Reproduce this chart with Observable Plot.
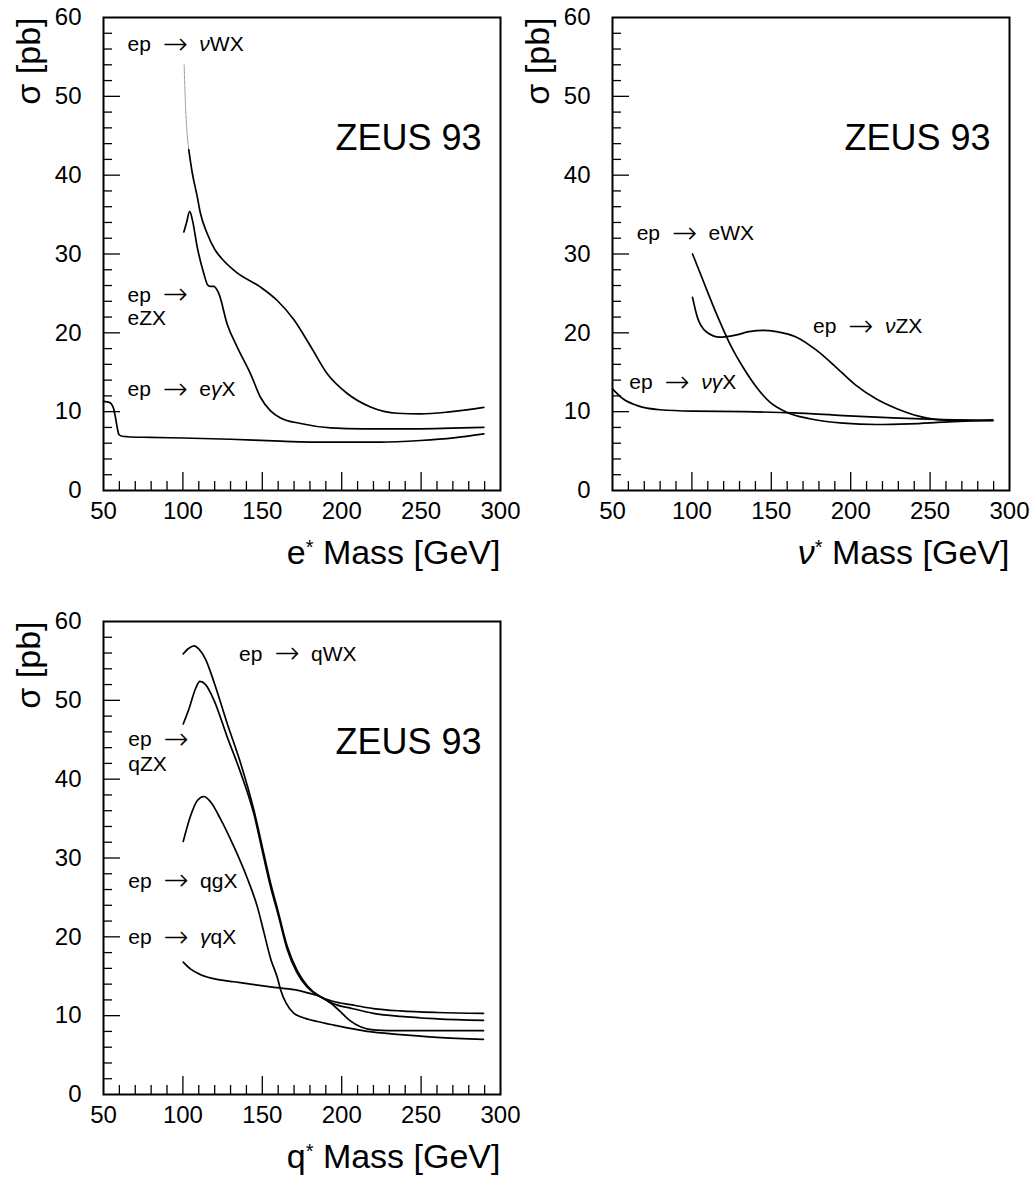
<!DOCTYPE html>
<html>
<head>
<meta charset="utf-8">
<script src="https://cdn.jsdelivr.net/npm/d3@7"></script>
<script src="https://cdn.jsdelivr.net/npm/@observablehq/plot@0.6"></script>
<style>
  html, body { margin: 0; padding: 0; background: #fff; }
  #wrap { position: relative; width: 1036px; height: 1190px; background: #fff; }
  #wrap > div { position: absolute; }
</style>
</head>
<body>
<div id="wrap">
  <div id="p1" style="left:0px; top:0px;"></div>
  <div id="p2" style="left:509px; top:0px;"></div>
  <div id="p3" style="left:0px; top:604px;"></div>
</div>
<script>
// ---------- axis ticks / labels ----------
const xTickLabels = [50, 100, 150, 200, 250, 300];
const yTickLabels = [0, 10, 20, 30, 40, 50, 60];
const xMajorTicks = [100, 150, 200, 250];
const xMinorTicks = [60, 70, 80, 90, 110, 120, 130, 140, 160, 170, 180, 190, 210, 220, 230, 240, 260, 270, 280, 290];
const yMajorTicks = [10, 20, 30, 40, 50];
const yMinorTicks = [2, 4, 6, 8, 12, 14, 16, 18, 22, 24, 26, 28, 32, 34, 36, 38, 42, 44, 46, 48, 52, 54, 56, 58];

// ---------- e* panel ----------
const eStar_nuWX_m = [100.8, 101.6, 102.6, 103.7, 105.8, 109, 111, 115.3, 120, 125, 134.2, 148.9, 159.4, 169.8, 180.4, 190.9, 203.5, 218.1, 234.9, 249.6, 266.4, 289.5];
const eStar_nuWX_s = [54.0, 49.0, 45.5, 43.2, 40.4, 37.3, 35.2, 32.6, 30.6, 29.3, 27.6, 25.8, 24.1, 21.7, 18.3, 14.8, 12.3, 10.6, 9.8, 9.73, 9.94, 10.55];
const eStar_eZX_m = [100.6, 102.3, 104.3, 106, 109, 113.2, 115.5, 117, 119.5, 122.6, 127.9, 134.2, 142.6, 148.9, 155.2, 161.5, 174.1, 193, 213.9, 245.4, 289.5];
const eStar_eZX_s = [32.8, 34.0, 35.4, 34.3, 30.9, 27.5, 26.1, 25.9, 25.9, 25.0, 21.1, 18.2, 14.8, 11.8, 10.1, 9.2, 8.5, 7.95, 7.82, 7.82, 8.0];
const eStar_egX_m = [50, 52, 54.4, 55.5, 56.5, 57.5, 58.2, 59, 59.7, 61.8, 65, 79.6, 100, 130, 161.5, 193, 224.4, 249.6, 270.6, 289.5];
const eStar_egX_s = [11.3, 11.25, 11.1, 10.8, 10.3, 9.3, 8.5, 7.6, 7.1, 6.88, 6.82, 6.74, 6.66, 6.5, 6.26, 6.13, 6.13, 6.34, 6.68, 7.19];

// ---------- nu* panel ----------
const nuStar_eWX_m = [100.4, 107.1, 115.5, 123.9, 132.3, 140.7, 149.1, 159.6, 174.2, 195.2, 216.2, 237.1, 258, 289.5];
const nuStar_eWX_s = [30.0, 26.6, 22.4, 18.6, 15.6, 13.1, 11.2, 9.93, 9.1, 8.54, 8.37, 8.46, 8.67, 8.96];
const nuStar_nuZX_m = [100.4, 103.4, 109.2, 117.6, 128.1, 136, 145, 153.3, 165.9, 178.4, 191, 203.6, 216.2, 228.7, 243.4, 258, 289.5];
const nuStar_nuZX_s = [24.5, 22.0, 20.1, 19.45, 19.75, 20.15, 20.32, 20.15, 19.45, 17.8, 15.6, 13.3, 11.6, 10.4, 9.4, 8.95, 8.85];
const nuStar_ngX_m = [50, 56.8, 65.2, 79.9, 100.8, 132.3, 163.7, 195.2, 226.6, 258, 289.5];
const nuStar_ngX_s = [12.9, 11.6, 10.8, 10.24, 10.06, 10.0, 9.85, 9.51, 9.22, 9.0, 8.88];

// ---------- q* panel ----------
const qStar_qWX_m = [100.2, 103.8, 107, 110.1, 114.3, 119.6, 128, 136.4, 144.8, 151, 155, 160, 165.7, 172, 178.3, 186.6, 195, 205.5, 220, 237, 260, 289.3];
const qStar_qWX_s = [55.9, 56.6, 56.9, 56.5, 55.2, 52.3, 47.0, 42.0, 36.0, 30.5, 27.0, 23.2, 18.8, 15.7, 13.8, 12.4, 11.8, 11.4, 10.9, 10.6, 10.4, 10.3];
const qStar_qZX_m = [100.2, 103.8, 108, 110.7, 114.3, 119.6, 128, 136.4, 144.8, 151, 155, 160, 165.7, 172, 178.3, 186.6, 195, 205.5, 220, 237, 260, 289.3];
const qStar_qZX_s = [47.0, 48.9, 51.5, 52.4, 52.0, 50.0, 45.3, 40.8, 35.5, 30.0, 26.5, 22.8, 18.4, 15.4, 13.6, 12.4, 11.5, 10.95, 10.3, 9.9, 9.6, 9.4];
const qStar_qgX_m = [100.2, 104.9, 109.1, 113.2, 117.5, 123.8, 132.2, 140.6, 146.9, 151.1, 155.3, 159.5, 161.5, 165, 169.9, 175, 184.6, 195, 216, 237, 260, 289.3];
const qStar_qgX_s = [32.1, 35.4, 37.3, 37.8, 37.1, 34.9, 31.4, 27.4, 23.8, 20.5, 17.2, 14.8, 13.3, 11.6, 10.3, 9.8, 9.26, 8.8, 8.0, 7.6, 7.25, 7.0];
const qStar_gqX_m = [100.2, 104.9, 111.2, 121.7, 132.2, 142.6, 157.4, 170.1, 178.5, 186.6, 193, 199.2, 205, 211.8, 220, 230, 289.3];
const qStar_gqX_s = [16.8, 15.9, 15.2, 14.6, 14.3, 14.0, 13.6, 13.3, 12.9, 12.4, 11.6, 10.5, 9.4, 8.6, 8.2, 8.1, 8.1];

// ---------- annotation labels ----------
const NB = "\u00a0";
const arrow = NB + NB + "\u2192" + NB + NB;
const eStar_labels = [
  {m: 65.1, s: 56.6, t: "ep" + arrow + "νWX"},
  {m: 65.1, s: 24.8, t: "ep" + arrow},
  {m: 65.1, s: 21.8, t: "eZX"},
  {m: 65.1, s: 12.8, t: "ep" + arrow + "eγX"}
];
const nuStar_labels = [
  {m: 65.2, s: 32.6, t: "ep" + arrow + "eWX"},
  {m: 176.3, s: 20.8, t: "ep" + arrow + "νZX"},
  {m: 60.6, s: 13.7, t: "ep" + arrow + "νγX"}
];
const qStar_labels = [
  {m: 135.4, s: 55.9, t: "ep" + arrow + "qWX"},
  {m: 65.6, s: 45.0, t: "ep" + arrow},
  {m: 65.6, s: 41.9, t: "qZX"},
  {m: 65.6, s: 27.1, t: "ep" + arrow + "qgX"},
  {m: 65.6, s: 19.9, t: "ep" + arrow + "γqX"}
];

function series(name, m, s) { return m.map((mm, i) => ({name, m: mm, s: s[i]})); }

const FONT = "'Liberation Sans', Arial, Helvetica, sans-serif";
const W = 520, H = 590, ML = 103, MR = 20, MT = 17, MB = 100;
const PW = W - ML - MR, PH = H - MT - MB;

function panel(data, labels, xTitle, thinData) {
  const marks = [
    Plot.tickX(xMinorTicks, {x: d => d, insetTop: PH - 9, stroke: "#000", strokeWidth: 1.3}),
    Plot.tickX(xMajorTicks, {x: d => d, insetTop: PH - 18, stroke: "#000", strokeWidth: 1.3}),
    Plot.tickY(yMinorTicks, {y: d => d, insetRight: PW - 9, stroke: "#000", strokeWidth: 1.3}),
    Plot.tickY(yMajorTicks, {y: d => d, insetRight: PW - 17, stroke: "#000", strokeWidth: 1.3}),
    Plot.axisX(xTickLabels, {tickSize: 0, tickPadding: 11, fontSize: 24, label: null, fill: "#000"}),
    Plot.axisY(yTickLabels, {tickSize: 0, tickPadding: 22, fontSize: 24, label: null, fill: "#000"}),
    Plot.frame({stroke: "#000", strokeWidth: 2}),
  ];
  if (thinData) marks.push(Plot.line(thinData, {x: "m", y: "s", curve: "monotone-x", stroke: "#888", strokeWidth: 0.9, strokeDasharray: "1.5,1"}));
  marks.push(
    Plot.line(data, {x: "m", y: "s", z: "name", curve: "monotone-x", stroke: "#000", strokeWidth: 1.7}),
    Plot.text(labels, {x: "m", y: "s", text: "t", textAnchor: "start", fontSize: 21, fill: "#000"}),
    Plot.text(["ZEUS 93"], {text: d => d, frameAnchor: "top-right", textAnchor: "end", dx: -19, dy: 107, fontSize: 36, fill: "#000"}),
    Plot.text([xTitle], {text: d => d, frameAnchor: "bottom-right", textAnchor: "end", dy: 73, fontSize: 34, fill: "#000"}),
    Plot.text(["σ [pb]"], {text: d => d, frameAnchor: "top-left", textAnchor: "end", rotate: -90, dx: -88, fontSize: 34, fill: "#000"})
  );
  const svg = Plot.plot({
    width: W, height: H, marginLeft: ML, marginRight: MR, marginTop: MT, marginBottom: MB,
    style: {fontFamily: FONT, background: "transparent", overflow: "visible", color: "#000"},
    x: {domain: [50, 300]},
    y: {domain: [0, 60]},
    marks
  });
  // rich text: italic Greek letters, small raised asterisk, long arrow
  const ns = "http://www.w3.org/2000/svg";
  svg.querySelectorAll("text").forEach(t => {
    const s = t.textContent;
    if (!/[νγ*→]/.test(s) || t.children.length) return;
    t.textContent = "";
    let shift = 0;
    for (const part of s.split(/([νγ*→])/)) {
      if (!part) continue;
      const ts = document.createElementNS(ns, "tspan");
      ts.textContent = part;
      let myShift = 0;
      if (part === "ν" || part === "γ") ts.setAttribute("font-style", "italic");
      if (part === "→") { ts.setAttribute("font-family", "'DejaVu Sans', sans-serif"); ts.setAttribute("font-size", "30"); ts.setAttribute("font-weight", "300"); myShift = 2.5; }
      if (part === "*") { ts.setAttribute("font-size", "20"); myShift = -10; }
      const d = myShift - shift;
      if (d) ts.setAttribute("dy", String(d));
      shift = myShift;
      t.appendChild(ts);
    }
  });
  return svg;
}

const p1 = [
  ...series("nuWX", eStar_nuWX_m, eStar_nuWX_s).filter(d => d.m >= 103.7),
  ...series("eZX", eStar_eZX_m, eStar_eZX_s),
  ...series("egX", eStar_egX_m, eStar_egX_s)
];
const p1thin = series("nuWX", eStar_nuWX_m, eStar_nuWX_s).filter(d => d.m <= 103.7);
const p2 = [
  ...series("eWX", nuStar_eWX_m, nuStar_eWX_s),
  ...series("nuZX", nuStar_nuZX_m, nuStar_nuZX_s),
  ...series("ngX", nuStar_ngX_m, nuStar_ngX_s)
];
const p3 = [
  ...series("qWX", qStar_qWX_m, qStar_qWX_s),
  ...series("qZX", qStar_qZX_m, qStar_qZX_s),
  ...series("qgX", qStar_qgX_m, qStar_qgX_s),
  ...series("gqX", qStar_gqX_m, qStar_gqX_s)
];

document.getElementById("p1").appendChild(panel(p1, eStar_labels, "e* Mass [GeV]", p1thin));
document.getElementById("p2").appendChild(panel(p2, nuStar_labels, "ν* Mass [GeV]"));
document.getElementById("p3").appendChild(panel(p3, qStar_labels, "q* Mass [GeV]"));
</script>
</body>
</html>
